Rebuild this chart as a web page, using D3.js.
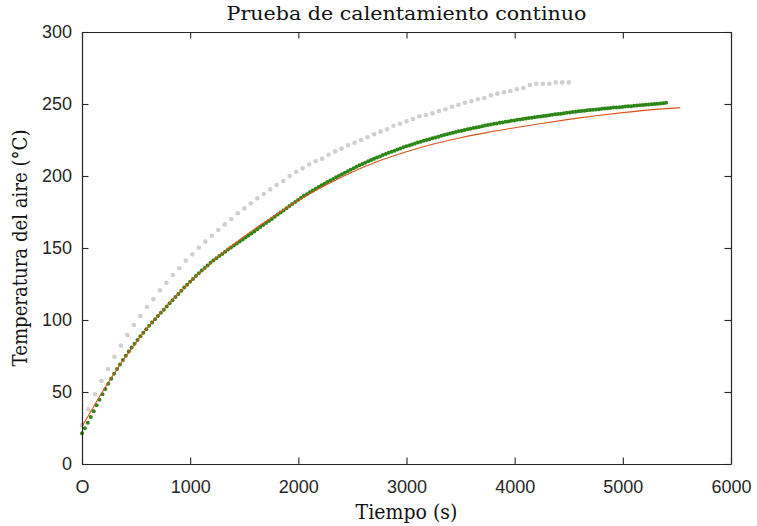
<!DOCTYPE html>
<html>
<head>
<meta charset="utf-8">
<script src="https://cdn.jsdelivr.net/npm/d3@7"></script>
<style>
  body { margin: 0; background: #fff; }
  svg { display: block; }
  .tick text { font-family: "Liberation Sans", Arial, sans-serif; font-size: 18px; fill: #262626; }
  .tick line, .domain { stroke: #262626; }
  .label { font-family: "DejaVu Serif", serif; fill: #111; }
</style>
</head>
<body>
<div id="chart"></div>
<script>
// prueba de calentamiento: datos
const xTicks = [0, 1000, 2000, 3000, 4000, 5000, 6000];
const xTickLabels = ['O', '1000', '2000', '3000', '4000', '5000', '6000'];
const yTicks = [0, 50, 100, 150, 200, 250, 300];

// ensayo anterior (puntos grises), cada 60 s
const grayStep = 60;
const grayTemps = [
  27.1, 38.0, 48.4, 57.6, 66.0, 74.5, 82.2, 89.6, 96.5, 102.8,
  109.0, 114.5, 120.6, 125.9, 131.2, 135.9, 141.2, 145.6, 150.2, 154.4,
  158.5, 162.5, 166.4, 170.1, 174.1, 177.5, 181.0, 184.5, 187.5, 190.7,
  193.8, 196.5, 200.0, 203.0, 205.3, 208.1, 210.2, 212.0, 214.8, 217.1,
  219.0, 221.3, 223.1, 225.0, 226.9, 229.0, 230.8, 232.4, 234.9, 236.3,
  238.0, 239.6, 241.5, 242.4, 243.5, 245.1, 246.3, 248.1, 249.5, 250.9,
  251.9, 253.3, 254.2, 256.0, 257.2, 258.1, 259.0, 260.2, 261.1, 263.2,
  264.1, 264.1, 264.1, 265.0, 265.0, 265.0
];

// medicion (puntos verdes), cada 27 s
const greenStep = 27;
const greenTemps = [
  21.3, 24.8, 28.7, 32.6, 36.7, 40.8, 44.6, 48.4, 52.1, 55.7,
  59.2, 62.6, 65.9, 69.1, 72.2, 75.2, 78.1, 80.9, 83.5, 86.1,
  88.7, 91.2, 93.6, 96.0, 98.3, 100.6, 102.8, 105.0, 107.2, 109.4,
  111.6, 113.8, 116.0, 118.1, 120.3, 122.5, 124.5, 126.5, 128.5, 130.5,
  132.5, 134.3, 136.1, 137.9, 139.7, 141.3, 142.9, 144.4, 145.9, 147.4,
  148.9, 150.3, 151.7, 153.1, 154.5, 155.9, 157.3, 158.7, 160.1, 161.5,
  163.0, 164.5, 166.0, 167.4, 168.8, 170.2, 171.7, 173.2, 174.6, 176.1,
  177.6, 179.1, 180.5, 182.0, 183.4, 184.9, 186.2, 187.4, 188.7, 189.9,
  191.2, 192.3, 193.5, 194.6, 195.8, 196.9, 198.0, 199.1, 200.1, 201.2,
  202.3, 203.3, 204.3, 205.4, 206.4, 207.4, 208.3, 209.2, 210.2, 211.1,
  212.0, 212.8, 213.6, 214.5, 215.3, 216.1, 216.9, 217.6, 218.4, 219.1,
  219.9, 220.6, 221.2, 221.9, 222.5, 223.2, 223.8, 224.4, 225.0, 225.6,
  226.2, 226.8, 227.3, 227.9, 228.4, 229.0, 229.5, 230.0, 230.5, 231.0,
  231.5, 231.9, 232.4, 232.8, 233.3, 233.7, 234.1, 234.5, 235.0, 235.4,
  235.8, 236.2, 236.5, 236.9, 237.2, 237.6, 237.9, 238.3, 238.6, 239.0,
  239.3, 239.6, 239.9, 240.2, 240.5, 240.8, 241.1, 241.4, 241.6, 241.9,
  242.2, 242.5, 242.8, 243.0, 243.3, 243.6, 243.9, 244.1, 244.4, 244.6,
  244.9, 245.1, 245.3, 245.6, 245.8, 246.0, 246.2, 246.4, 246.7, 246.9,
  247.1, 247.3, 247.5, 247.6, 247.8, 248.0, 248.2, 248.4, 248.5, 248.7,
  248.9, 249.1, 249.3, 249.4, 249.6, 249.8, 250.0, 250.2, 250.4, 250.6,
  250.8
];

// ajuste (linea naranja)
const fitTimes = [0, 250, 500, 750, 1000, 1250, 1500, 1750, 2000, 2250, 2500, 2750,
  3000, 3250, 3500, 3750, 4000, 4250, 4500, 4750, 5000, 5250, 5530];
const fitTemps = [26.0, 57.5, 84.5, 107.0, 126.5, 143.5, 158.0, 171.0, 183.0, 193.5, 202.8, 210.6,
  216.9, 222.2, 226.6, 230.3, 233.5, 236.5, 239.3, 241.8, 244.0, 245.9, 247.5];

const W = 757, H = 526;
const margin = { top: 32, right: 26, bottom: 62, left: 82 };
const innerW = W - margin.left - margin.right;
const innerH = H - margin.top - margin.bottom;

const svg = d3.select('#chart').append('svg')
  .attr('width', W)
  .attr('height', H);

const x = d3.scaleLinear().domain([0, 6000]).range([margin.left, margin.left + innerW]);
const y = d3.scaleLinear().domain([0, 300]).range([margin.top + innerH, margin.top]);

const gray = grayTemps.map((v, i) => ({ t: i * grayStep, v }));
const green = greenTemps.map((v, i) => ({ t: i * greenStep, v }));
const fit = fitTimes.map((t, i) => ({ t, v: fitTemps[i] }));

// series
svg.append('g').selectAll('circle')
  .data(gray)
  .join('circle')
  .attr('cx', d => x(d.t))
  .attr('cy', d => y(d.v))
  .attr('r', 2.3)
  .attr('fill', '#d0d0d0');

svg.append('g').selectAll('circle')
  .data(green)
  .join('circle')
  .attr('cx', d => x(d.t))
  .attr('cy', d => y(d.v))
  .attr('r', 2)
  .attr('fill', '#2e8616');

svg.append('path')
  .datum(fit)
  .attr('fill', 'none')
  .attr('stroke', '#d95319')
  .attr('stroke-width', 1.1)
  .attr('d', d3.line().x(d => x(d.t)).y(d => y(d.v)).curve(d3.curveMonotoneX));

// ejes (caja con marcas hacia dentro)
const tick = 6.5;
svg.append('g')
  .attr('transform', `translate(0,${margin.top + innerH})`)
  .call(d3.axisBottom(x).tickValues(xTicks).tickFormat((d, i) => xTickLabels[i])
    .tickSizeInner(-tick).tickSizeOuter(0).tickPadding(16));
svg.append('g')
  .attr('transform', `translate(0,${margin.top})`)
  .call(d3.axisTop(x).tickValues(xTicks).tickFormat('')
    .tickSizeInner(-tick).tickSizeOuter(0));
svg.append('g')
  .attr('transform', `translate(${margin.left},0)`)
  .call(d3.axisLeft(y).tickValues(yTicks)
    .tickSizeInner(-tick).tickSizeOuter(0).tickPadding(10));
svg.append('g')
  .attr('transform', `translate(${margin.left + innerW},0)`)
  .call(d3.axisRight(y).tickValues(yTicks).tickFormat('')
    .tickSizeInner(-tick).tickSizeOuter(0));

svg.selectAll('.domain').attr('stroke-width', 1.2);
svg.selectAll('.tick line').attr('stroke-width', 1.1);

// textos
svg.append('text')
  .attr('class', 'label')
  .attr('x', margin.left + innerW / 2)
  .attr('y', 20)
  .attr('text-anchor', 'middle')
  .attr('font-size', 18.5)
  .attr('textLength', 360)
  .attr('lengthAdjust', 'spacingAndGlyphs')
  .text('Prueba de calentamiento continuo');

svg.append('text')
  .attr('class', 'label')
  .attr('x', margin.left + innerW / 2)
  .attr('y', 519)
  .attr('text-anchor', 'middle')
  .attr('font-size', 19.5)
  .attr('textLength', 102)
  .attr('lengthAdjust', 'spacingAndGlyphs')
  .text('Tiempo (s)');

svg.append('text')
  .attr('class', 'label')
  .attr('transform', `translate(27,${margin.top + innerH / 2}) rotate(-90)`)
  .attr('text-anchor', 'middle')
  .attr('font-size', 19.5)
  .attr('textLength', 237)
  .attr('lengthAdjust', 'spacingAndGlyphs')
  .text('Temperatura del aire (°C)');
</script>
</body>
</html>
